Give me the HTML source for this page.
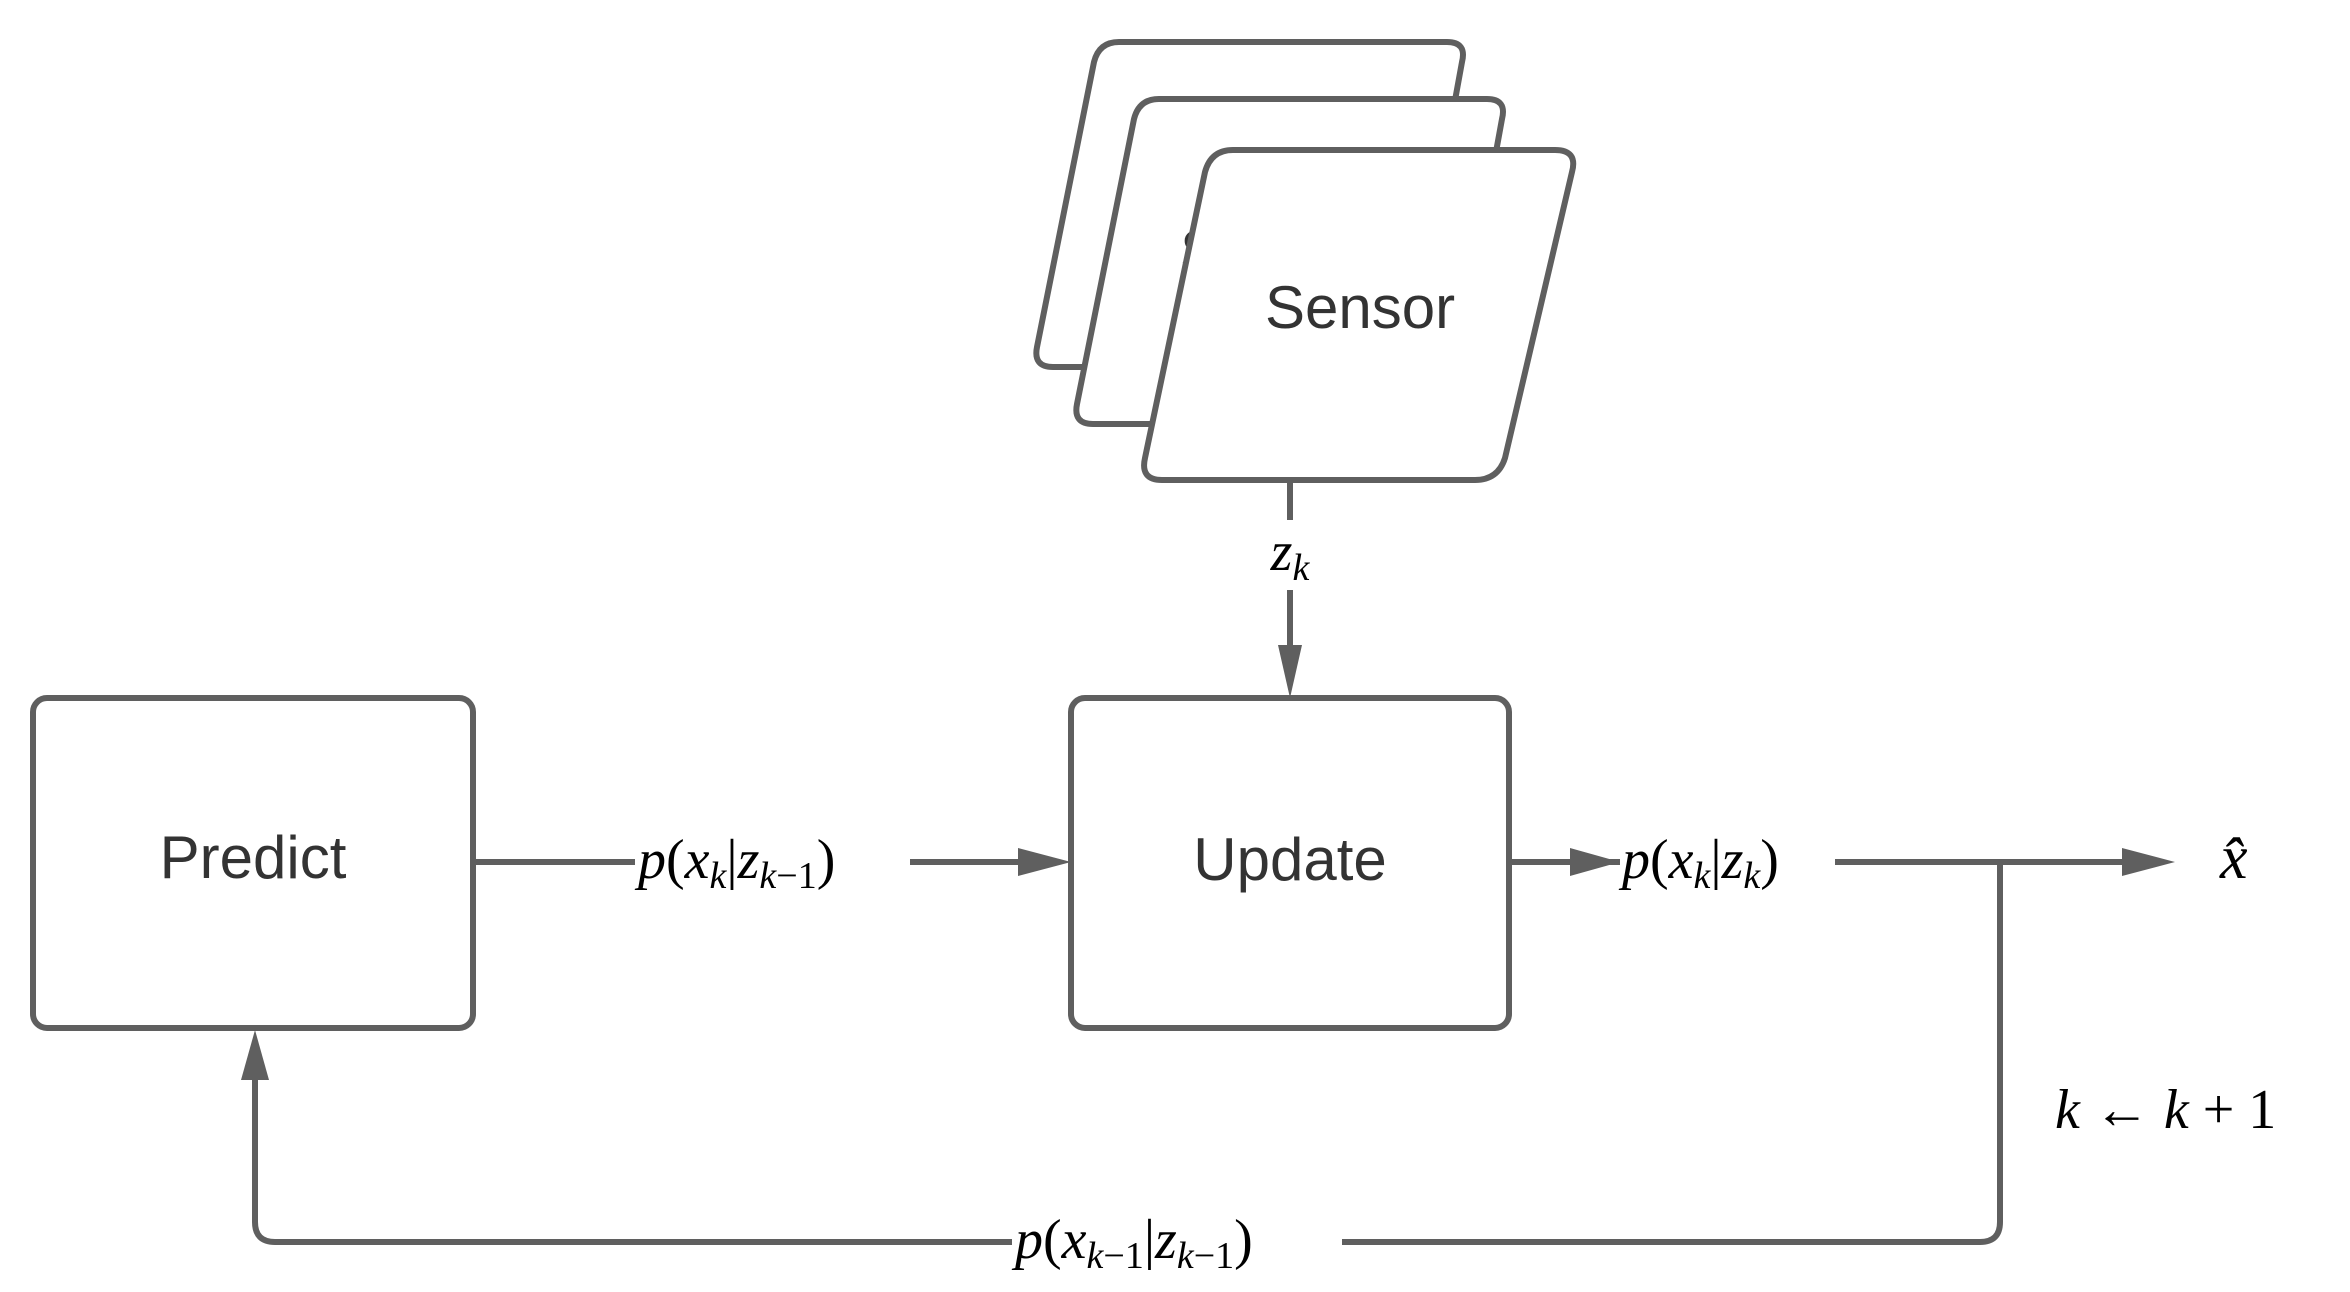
<!DOCTYPE html>
<html><head><meta charset="utf-8"><style>
html,body{margin:0;padding:0;background:#fff;}
svg{display:block;}
.box{font-family:"Liberation Sans",sans-serif;font-size:60px;fill:#333;}
.m{font-family:"Liberation Serif",serif;font-style:italic;font-size:56px;fill:#000;}
.s{font-size:38px;}
.n{font-style:normal;}
</style></head><body>
<svg width="2350" height="1292" viewBox="0 0 2350 1292" xmlns="http://www.w3.org/2000/svg">
<g stroke="#5f5f5f" stroke-width="6" fill="#fff" stroke-linejoin="round">
<path d="M1135,42 L1447,42 Q1467,42 1462,62 L1410,347 Q1405,367 1385,367 L1053,367 Q1033,367 1037,347 L1094,62 Q1099,42 1119,42 Z"/>
<path d="M1175,99 L1487,99 Q1507,99 1502,119 L1450,404 Q1445,424 1425,424 L1093,424 Q1073,424 1077,404 L1134,119 Q1139,99 1159,99 Z"/>
<text x="1180" y="272" class="box" stroke="none">S</text>
<path d="M1240,150 L1555,150 Q1578,150 1572,172 L1505,458 Q1498,480 1475,480 L1162,480 Q1140,480 1145,458 L1205,172 Q1211,150 1233,150 Z"/>
<rect x="33" y="698" width="440" height="330" rx="14"/>
<rect x="1071" y="698" width="438" height="330" rx="14"/>
<path d="M1290,480 V650 M473,862 H1020 M1509,862 H1575 M1575,862 H2125 M2000,862 V1222 Q2000,1242 1980,1242 H275 Q255,1242 255,1222 V1075" fill="none"/>
</g>
<g fill="#5f5f5f">
<polygon points="1278,645 1302,645 1290,698"/>
<polygon points="1018,848 1018,876 1071,862"/>
<polygon points="1570,848 1570,876 1620,862"/>
<polygon points="2122,848 2122,876 2175,862"/>
<polygon points="241,1080 269,1080 255,1030"/>
</g>
<text x="1360" y="328" class="box" text-anchor="middle">Sensor</text>
<text x="253" y="878" class="box" text-anchor="middle">Predict</text>
<text x="1290" y="880" class="box" text-anchor="middle">Update</text>
<rect x="1255" y="520" width="70" height="70" fill="#fff"/>
<text x="1290" y="570" class="m" text-anchor="middle">z<tspan class="s" dy="10">k</tspan></text>
<rect x="635" y="825" width="275" height="75" fill="#fff"/>
<text x="638" y="878" class="m">p<tspan class="n">(</tspan>x<tspan class="s" dy="10">k</tspan><tspan class="n" dy="-10">|</tspan>z<tspan class="s" dy="10">k<tspan class="n">−1</tspan></tspan><tspan class="n" dy="-10">)</tspan></text>
<rect x="1620" y="825" width="215" height="75" fill="#fff"/>
<text x="1622" y="878" class="m">p<tspan class="n">(</tspan>x<tspan class="s" dy="10">k</tspan><tspan class="n" dy="-10">|</tspan>z<tspan class="s" dy="10">k</tspan><tspan class="n" dy="-10">)</tspan></text>
<text x="2220" y="878" class="m" style="font-size:62px">x̂</text>
<text x="2055" y="1128" class="m">k <tspan class="n">← </tspan>k <tspan class="n">+ 1</tspan></text>
<rect x="1012" y="1205" width="330" height="75" fill="#fff"/>
<text x="1015" y="1258" class="m">p<tspan class="n">(</tspan>x<tspan class="s" dy="10">k<tspan class="n">−1</tspan></tspan><tspan class="n" dy="-10">|</tspan>z<tspan class="s" dy="10">k<tspan class="n">−1</tspan></tspan><tspan class="n" dy="-10">)</tspan></text>
</svg>
</body></html>
